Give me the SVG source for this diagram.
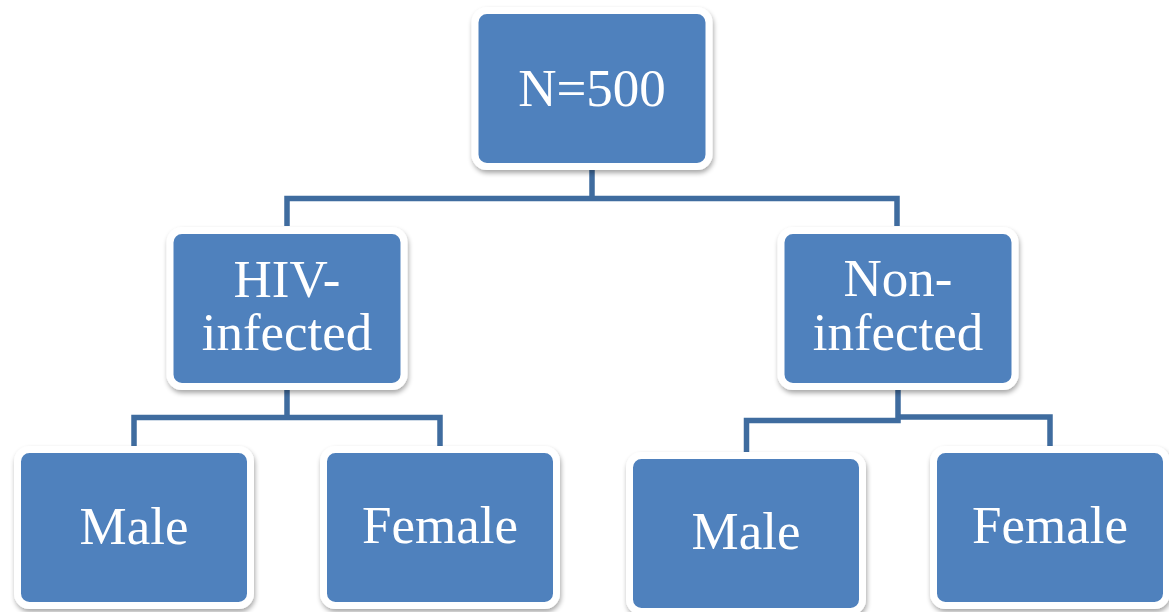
<svg xmlns="http://www.w3.org/2000/svg" width="1169" height="612" viewBox="0 0 1169 612">
<style>
.box{fill:#4f81bd;stroke:#ffffff;stroke-width:7;filter:url(#sh)}
.lbl{font-family:"Liberation Serif","Times New Roman",serif;font-size:53px;fill:#ffffff;text-anchor:middle}
.con{fill:none;stroke:#3f6c9f;stroke-width:5.5;stroke-linejoin:miter}
</style>
<defs>
<filter id="sh" x="-10%" y="-10%" width="125%" height="125%">
<feGaussianBlur in="SourceAlpha" stdDeviation="2.5"/>
<feOffset dx="1" dy="3" result="b"/>
<feComponentTransfer><feFuncA type="linear" slope="0.35"/></feComponentTransfer>
<feMerge><feMergeNode/><feMergeNode in="SourceGraphic"/></feMerge>
</filter>
</defs>
<rect width="1169" height="612" fill="#ffffff"/>
<g id="connectors">
<path class="con" d="M592,167 V198.5 M287,226 V198.5 H897 V226"/>
<path class="con" d="M287,390 V417.5 M134,446 V417.5 H440 V446"/>
<path class="con" d="M898,390 V420.5 H746.5 V452 M898,417 H1050 V446"/>
</g>
<g id="n500"><rect class="box" x="475" y="10.5" width="234" height="156" rx="12"/><text class="lbl" x="592" y="106">N=500</text></g>
<g id="hiv"><rect class="box" x="170" y="230.5" width="234" height="156" rx="12"/><text class="lbl" x="287" y="297">HIV-</text><text class="lbl" x="287" y="350">infected</text></g>
<g id="non"><rect class="box" x="781" y="230.5" width="234" height="156" rx="12"/><text class="lbl" x="898" y="296">Non-</text><text class="lbl" x="898" y="350">infected</text></g>
<g id="male1"><rect class="box" x="17.5" y="449.5" width="233" height="156" rx="12"/><text class="lbl" x="134" y="544">Male</text></g>
<g id="female1"><rect class="box" x="323.5" y="449.5" width="233" height="156" rx="12"/><text class="lbl" x="440" y="543">Female</text></g>
<g id="male2"><rect class="box" x="629.5" y="455.5" width="233" height="156" rx="12"/><text class="lbl" x="746" y="549">Male</text></g>
<g id="female2"><rect class="box" x="933.5" y="449.5" width="233" height="156" rx="12"/><text class="lbl" x="1050" y="543">Female</text></g>
</svg>
